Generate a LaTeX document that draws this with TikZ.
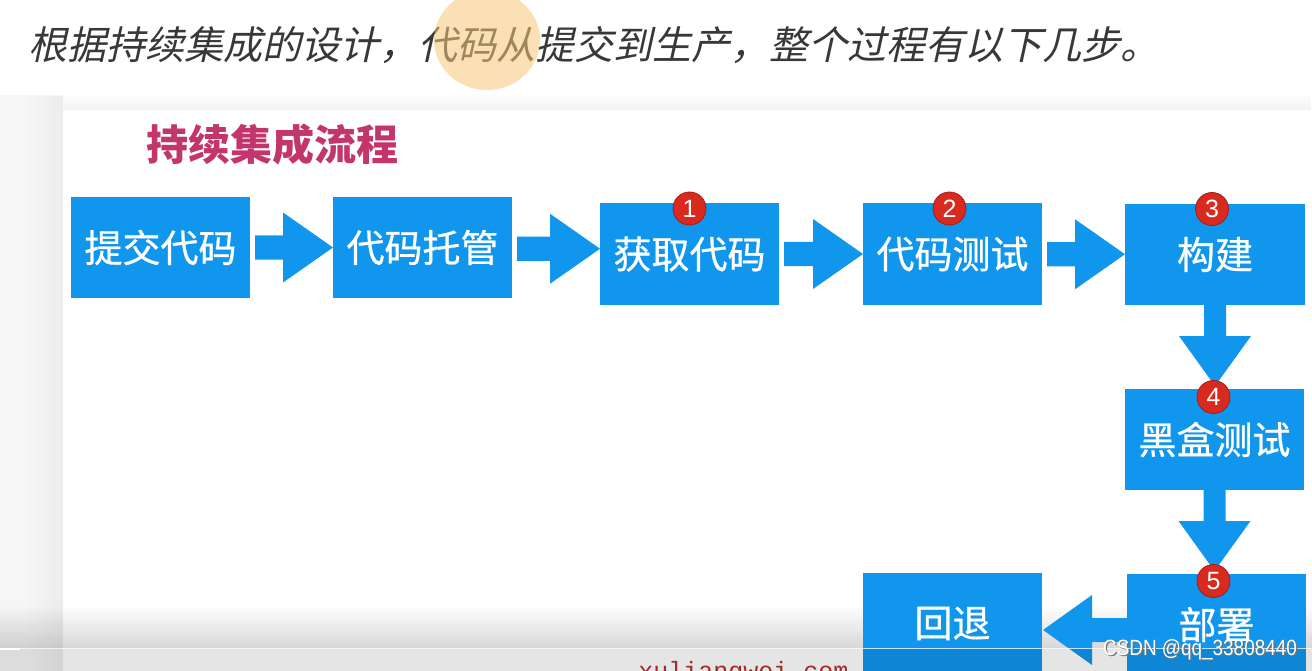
\documentclass[tikz,border=0pt]{standalone}
\usepackage{fontspec}
\setmainfont{Noto Sans CJK SC}
\newfontfamily\cjk{Noto Sans CJK SC}
\newfontfamily\cjkmed[FakeBold=0.7]{Noto Sans CJK SC}
\newfontfamily\cjksl[FakeSlant=0.22]{Noto Sans CJK SC}
\newfontfamily\numfont{Liberation Sans}
\newfontfamily\wmfont{Liberation Sans}
\newfontfamily\monofnt{Liberation Mono}
\usetikzlibrary{calc,fadings}
\definecolor{boxblue}{HTML}{1196EE}
\definecolor{badgered}{HTML}{D92A1F}
\definecolor{badgeedge}{HTML}{A81A12}
\definecolor{titlered}{HTML}{C2366B}
\definecolor{headgray}{HTML}{383838}
\definecolor{blob}{HTML}{F6C878}
\definecolor{sitered}{HTML}{B3302E}
\tikzset{
  stepbox/.style={fill=boxblue, draw=none, inner sep=0pt, outer sep=0pt,
    minimum width=179pt, minimum height=101pt, text=white,
    font=\cjkmed\fontsize{38}{40}\selectfont},
  badge/.style={circle, fill=badgered, draw=badgeedge, line width=0.8pt,
    minimum size=33pt, inner sep=0pt, text=white,
    font=\numfont\fontsize{25}{25}\selectfont},
  arrowfill/.style={fill=boxblue}
}
% horizontal block arrow to the right: from, to, y shift
\newcommand\rarr[3]{%
  \fill[arrowfill] let \p1=(#1.east), \p2=(#2.west),
      \p3=($(#1.east)!0.5!(#2.west)+(0,#3)$) in
    (\x1+5pt,\y3+12pt) -- (\x2-50pt,\y3+12pt) -- (\x2-50pt,\y3+35pt) --
    (\x2,\y3) -- (\x2-50pt,\y3-35pt) -- (\x2-50pt,\y3-12pt) --
    (\x1+5pt,\y3-12pt) -- cycle;}
% horizontal block arrow to the left
\newcommand\larr[3]{%
  \fill[arrowfill] let \p1=(#1.west), \p2=(#2.east),
      \p3=($(#1.west)!0.5!(#2.east)+(0,#3)$) in
    (\x1,\y3+12pt) -- (\x2+50pt,\y3+12pt) -- (\x2+50pt,\y3+35pt) --
    (\x2+1pt,\y3) -- (\x2+50pt,\y3-35pt) -- (\x2+50pt,\y3-12pt) --
    (\x1,\y3-12pt) -- cycle;}
% vertical block arrow downwards
\newcommand\darr[2]{%
  \fill[arrowfill] let \p1=(#1.south), \p2=(#2.north) in
    (\x1-11pt,\y1) -- (\x1-11pt,\y2+53pt) -- (\x1-36pt,\y2+53pt) --
    (\x1,\y2+3pt) -- (\x1+36pt,\y2+53pt) -- (\x1+11pt,\y2+53pt) --
    (\x1+11pt,\y1) -- cycle;}
\begin{document}
\begin{tikzpicture}[x=1pt,y=-1pt]
\useasboundingbox (0,0) rectangle (1312,671);
\clip (0,0) rectangle (1312,671);
% background
\fill[white] (0,0) rectangle (1312,671);
\fill[black, opacity=0.035] (0,95) rectangle (63,671);
\fill[black, opacity=0.04, path fading=west] (25,95) rectangle (63,671);
\fill[black, opacity=0.05, path fading=north] (63,92) rectangle (1312,110);
\fill[black, opacity=0.16, path fading=north] (0,605) rectangle (1312,649);

% heading
\node[anchor=west, inner sep=0pt, text=headgray,
  font=\cjksl\fontsize{39}{41}\selectfont] (heading) at (28,45)
  {根据持续集成的设计，代码从提交到生产，整个过程有以下几步。};
\fill[blob, opacity=0.55] (487,40) ellipse [x radius=53, y radius=50];

% title
\node[anchor=west, inner sep=0pt, text=titlered,
  font=\cjk\bfseries\fontsize{42}{44}\selectfont] (title) at (146,144) {持续集成流程};

% boxes
\node[stepbox] (b1) at (160.5,247.5) {提交代码};
\node[stepbox] (b2) at (422.5,247.5) {代码托管};
\node[stepbox] (b3) at (689.5,254) {获取代码};
\node[stepbox] (b4) at (952.5,254) {代码测试};
\node[stepbox, minimum width=180pt] (b5) at (1215,254.5) {构建};
\node[stepbox] (b6) at (1214.5,439.5) {黑盒测试};
\node[stepbox] (b7) at (1216.5,624.5) {部署};
\node[stepbox] (b8) at (952.5,623.5) {回退};

% arrows
\rarr{b1}{b2}{0}
\rarr{b2}{b3}{-2}
\rarr{b3}{b4}{0}
\rarr{b4}{b5}{0}
\darr{b5}{b6}
\darr{b6}{b7}
\larr{b7}{b8}{6}

% badges
\node[badge] (n1) at ($(b3.north)+(0,5)$) {1};
\node[badge] (n2) at ($(b4.north)+(-3,5)$) {2};
\node[badge] (n3) at ($(b5.north)+(-3,5)$) {3};
\node[badge] (n4) at ($(b6.north)+(-1,8)$) {4};
\node[badge] (n5) at ($(b7.north)+(-3,7)$) {5};

% site name (cut off by the bottom edge)
\node[anchor=base, inner sep=0pt, text=sitered,
  font=\monofnt\fontsize{25}{25}\selectfont] (site) at (743.5,679) {xuliangwei.com};

% video bar overlay
\fill[black, opacity=0.10] (0,649) rectangle (1312,671);
\draw[white, opacity=0.75, line width=1.5pt] (0,648.5) -- (1312,648.5);
\draw[white, line width=2pt] (0,648.5) -- (20,648.5);

% watermark
\node[inner sep=0pt, text=black!55, xscale=0.86,
  font=\wmfont\fontsize{22}{22}\selectfont] (wmshadow) at (1201.2,651.2) {CSDN @qq\_33808440};
\node[inner sep=0pt, text=white, xscale=0.86,
  font=\wmfont\fontsize{22}{22}\selectfont] (wm) at (1200,650) {CSDN @qq\_33808440};
\end{tikzpicture}
\end{document}
